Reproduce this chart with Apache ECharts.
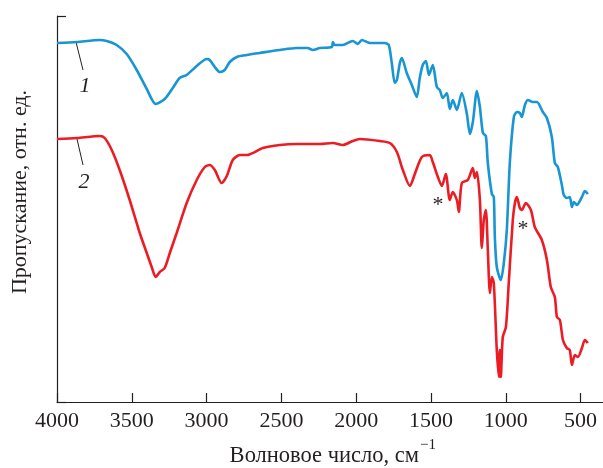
<!DOCTYPE html>
<html>
<head>
<meta charset="utf-8">
<script src="https://cdn.jsdelivr.net/npm/echarts@6/dist/echarts.min.js"></script>
<style>
  html, body { margin: 0; padding: 0; background: #fff; }
  #chart { width: 603px; height: 468px; }
</style>
</head>
<body>
<div id="chart"></div>
<script>
// ИК-спектры: волновое число (см-1) и пропускание (отн. ед.)
var xTicks = [4000, 3500, 3000, 2500, 2000, 1500, 1000, 500];

// кривая 1 (синяя)
var wn1 = [4000, 3868, 3714, 3668, 3601, 3534, 3467, 3400, 3340, 3280, 3226, 3180, 3133, 3066, 2999, 2979, 2945, 2912, 2879, 2845,
  2798, 2731, 2645, 2511, 2397, 2324, 2290, 2243, 2163, 2156, 2143, 2090, 2023, 1989, 1962, 1909, 1809, 1782, 1762, 1742,
  1728, 1708, 1695, 1662, 1628, 1595, 1575, 1555, 1534, 1514, 1488, 1461, 1441, 1421, 1394, 1374, 1354, 1327, 1294, 1260,
  1240, 1220, 1193, 1173, 1153, 1133, 1120, 1093, 1080, 1073, 1060, 1033, 1013, 993, 973, 946, 926, 906, 893, 872,
  852, 819, 792, 752, 725, 692, 672, 652, 625, 612, 592, 572, 558, 545, 525, 491, 471, 451];
var t1 = [359, 360, 362, 361, 357, 348, 332, 313, 298, 303, 314, 324, 327, 336, 343, 342, 335, 330, 332, 340,
  345, 347, 349, 352, 354, 354, 352, 354, 355, 360, 357, 357, 361, 358, 362, 359, 359, 357, 339, 319,
  322, 339, 344, 329, 317, 305, 324, 337, 341, 327, 337, 315, 312, 304, 309, 293, 302, 292, 309, 288,
  268, 280, 311, 295, 269, 266, 239, 208, 205, 165, 135, 122, 139, 172, 239, 285, 290, 289, 285, 297,
  302, 300, 300, 290, 284, 265, 239, 235, 217, 207, 204, 205, 195, 200, 197, 205, 211, 208];

// кривая 2 (красная)
var wn2 = [4000, 3868, 3714, 3681, 3634, 3581, 3514, 3447, 3400, 3367, 3340, 3313, 3280, 3246, 3200, 3133, 3066, 3012, 2979, 2945,
  2899, 2865, 2825, 2778, 2731, 2624, 2511, 2397, 2243, 2156, 2090, 2023, 1976, 1842, 1775, 1728, 1688, 1641, 1608, 1561,
  1508, 1488, 1454, 1427, 1401, 1374, 1354, 1327, 1314, 1294, 1254, 1220, 1207, 1193, 1173, 1160, 1147, 1133, 1120, 1106,
  1093, 1080, 1060, 1046, 1040, 1033, 1020, 999, 980, 953, 939, 926, 906, 893, 866, 832, 806, 759, 725, 699,
  672, 658, 638, 618, 592, 572, 558, 538, 518, 491, 471, 451];
var t2 = [263, 264, 266, 264, 252, 232, 202, 169, 149, 135, 125, 130, 134, 149, 169, 199, 222, 235, 237, 232,
  219, 226, 242, 247, 247, 254, 257, 258, 258, 259, 257, 261, 263, 261, 259, 250, 232, 216, 228, 245,
  247, 240, 225, 216, 228, 202, 210, 202, 190, 219, 222, 234, 224, 230, 202, 154, 182, 192, 152, 109,
  125, 119, 52, 25, 52, 25, 65, 75, 119, 182, 199, 205, 194, 192, 199, 192, 175, 162, 142, 115,
  105, 85, 82, 62, 54, 52, 37, 47, 45, 54, 62, 59];

function zip(xs, ys) {
  return xs.map(function (x, i) { return [x, ys[i]]; });
}

var ink = '#231f20';
var serif = 'Liberation Serif';
var chart = echarts.init(document.getElementById('chart'), null, { renderer: 'canvas' });

var option = {
  animation: false,
  grid: { left: 57, right: 0, top: 16, bottom: 66, containLabel: false },
  xAxis: {
    type: 'value',
    inverse: true,
    min: 350,
    max: 4000,
    axisLine: { onZero: false, lineStyle: { color: ink, width: 1.2 } },
    axisTick: { inside: true, length: 9, customValues: xTicks, lineStyle: { color: ink, width: 1.2 } },
    axisLabel: {
      color: ink, fontFamily: serif, fontSize: 22, margin: 8, customValues: xTicks,
      formatter: function (v) { return String(v); }
    },
    splitLine: { show: false }
  },
  yAxis: {
    type: 'value',
    min: 0,
    max: 386,
    interval: 386,
    axisLine: { show: true, onZero: false, lineStyle: { color: ink, width: 1.2 } },
    axisTick: { show: true, inside: true, length: 9, lineStyle: { color: ink, width: 1.2 } },
    axisLabel: { show: false },
    splitLine: { show: false }
  },
  series: [
    {
      name: '1', type: 'line', data: zip(wn1, t1), showSymbol: false, smooth: 0.25,
      lineStyle: { color: '#1895d3', width: 2.6 }
    },
    {
      name: '2', type: 'line', data: zip(wn2, t2), showSymbol: false, smooth: 0.25,
      lineStyle: { color: '#ec1c24', width: 2.6 }
    }
  ],
  graphic: [
    // подписи кривых
    { type: 'line', shape: { x1: 76, y1: 42, x2: 83, y2: 70 }, style: { stroke: ink, lineWidth: 1 } },
    { type: 'line', shape: { x1: 77, y1: 139, x2: 83, y2: 165 }, style: { stroke: ink, lineWidth: 1 } },
    { type: 'text', x: 85, y: 86, style: { text: '1', font: 'italic 22px "Liberation Serif"', fill: ink, align: 'center', verticalAlign: 'middle' } },
    { type: 'text', x: 84, y: 182, style: { text: '2', font: 'italic 22px "Liberation Serif"', fill: ink, align: 'center', verticalAlign: 'middle' } },
    // звёздочки
    { type: 'text', x: 438, y: 205, style: { text: '*', font: '22px "Liberation Serif"', fill: ink, align: 'center', verticalAlign: 'middle' } },
    { type: 'text', x: 523, y: 229, style: { text: '*', font: '22px "Liberation Serif"', fill: ink, align: 'center', verticalAlign: 'middle' } },
    // подписи осей
    {
      type: 'text', x: 20, y: 192, rotation: Math.PI / 2,
      style: { text: 'Пропускание, отн. ед.', font: '22px "Liberation Serif"', fill: ink, align: 'center', verticalAlign: 'middle' }
    },
    {
      type: 'text', x: 419, y: 456,
      style: { text: 'Волновое число, см', font: '22.5px "Liberation Serif"', fill: ink, align: 'right', verticalAlign: 'middle' }
    },
    {
      type: 'text', x: 420, y: 445,
      style: { text: '\u22121', font: '15px "Liberation Serif"', fill: ink, align: 'left', verticalAlign: 'middle' }
    }
  ]
};

chart.setOption(option);
</script>
</body>
</html>
